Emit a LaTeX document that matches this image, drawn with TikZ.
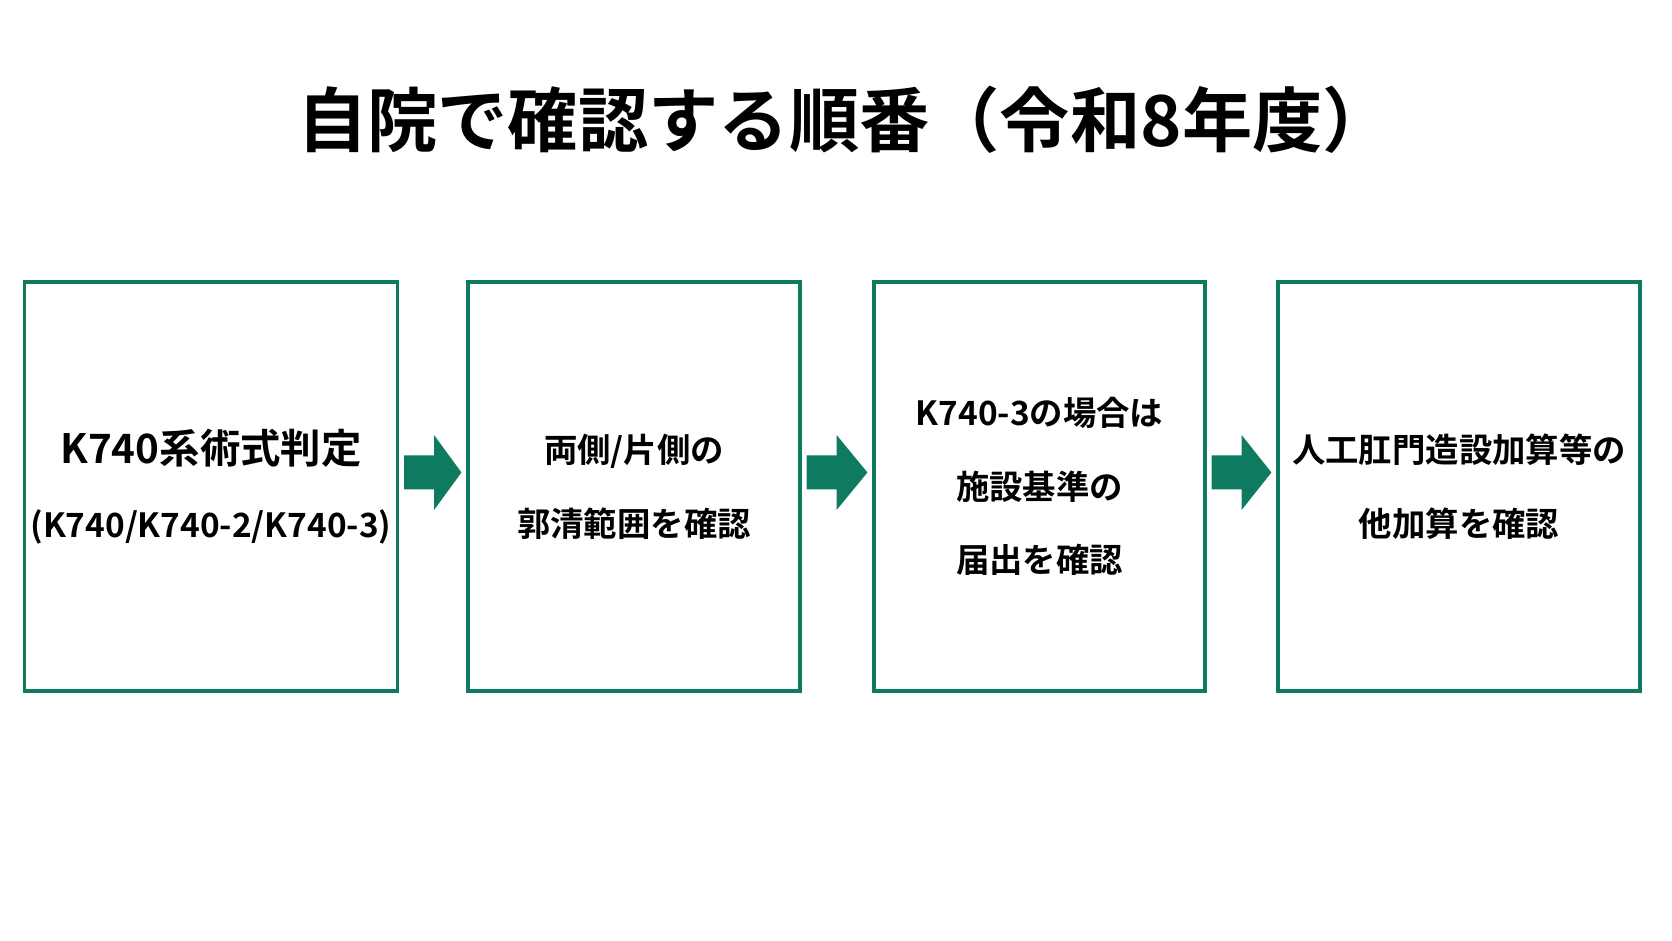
\documentclass[tikz,border=0pt]{standalone}
\usepackage{fontspec}
\newfontfamily\cjk{Noto Sans CJK JP}[BoldFont={Noto Sans CJK JP Bold}]
\usetikzlibrary{positioning}
\definecolor{stepgreen}{HTML}{0E7A60}
\tikzset{
  stage/.style={draw=stepgreen, line width=1.8pt, minimum width=7.1cm, minimum height=8.18cm,
               align=center, font=\cjk\bfseries\fontsize{19}{42}\selectfont},
  flow/.style={fill=stepgreen, draw=none}
}
\newcommand{\fatarrow}[2]{%
  \fill[flow] ([xshift=0.1cm,yshift=0.62cm]#1.east) -- ++(0.6,0) -- ++(0,0.41)
    -- ([xshift=-0.1cm,yshift=0.28cm]#2.west) -- ([xshift=0.7cm,yshift=-0.47cm]#1.east)
    -- ++(0,0.41) -- ([xshift=0.1cm,yshift=-0.06cm]#1.east) -- cycle;}
\begin{document}
\begin{tikzpicture}
  \useasboundingbox[fill=white] (0,0) rectangle (33.44,18.82);
  \node (title) at (16.9,16.42) {\cjk\bfseries\fontsize{40}{48}\selectfont 自院で確認する順番（令和8年度）};
  \node[stage, minimum width=7.24cm] (s1) at (4.22,9.09)
    {{\fontsize{23}{42}\selectfont K740系術式判定}\\(K740/K740-2/K740-3)};
  \node[stage, minimum width=6.64cm] (s2) at (12.68,9.09) {両側/片側の\\郭清範囲を確認};
  \node[stage, minimum width=6.62cm] (s3) at (20.79,9.09) {K740-3の場合は\\施設基準の\\届出を確認};
  \node[stage, minimum width=7.24cm] (s4) at (29.18,9.09) {人工肛門造設加算等の\\他加算を確認};
  \fatarrow{s1}{s2}
  \fatarrow{s2}{s3}
  \fatarrow{s3}{s4}
\end{tikzpicture}
\end{document}
